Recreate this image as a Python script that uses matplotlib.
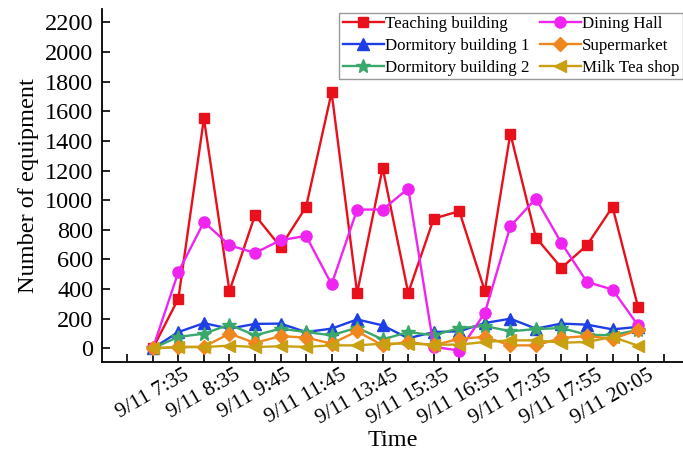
import matplotlib
matplotlib.use('Agg')
import matplotlib.pyplot as plt
import numpy as np

plt.rcParams['font.family'] = ['Liberation Serif', 'DejaVu Serif']

# time slots (only every second one is labelled on the axis)
n_points = 20
tick_labels = ['9/11 7:35', '9/11 8:35', '9/11 9:45', '9/11 11:45', '9/11 13:45',
               '9/11 15:35', '9/11 16:55', '9/11 17:35', '9/11 17:55', '9/11 20:05']

teaching = [0, 336, 1552, 387, 899, 685, 955, 1728, 374, 1218,
            374, 876, 926, 387, 1450, 748, 543, 696, 955, 279]
dining = [0, 516, 853, 696, 644, 730, 759, 432, 937, 937,
          1079, 10, -15, 239, 824, 1011, 711, 448, 397, 155]
dorm1 = [0, 110, 170, 133, 165, 167, 110, 133, 195, 155,
         68, 110, 115, 171, 200, 133, 167, 160, 128, 145]
dorm2 = [0, 77, 99, 160, 88, 133, 110, 88, 140, 60,
         110, 88, 137, 151, 115, 130, 137, 92, 88, 125]
supermarket = [0, 10, 10, 100, 36, 83, 72, 32, 115, 20,
               43, 20, 65, 77, 20, 20, 70, 83, 65, 122]
milktea = [0, 8, 9, 18, 9, 14, 10, 20, 20, 32,
           32, 25, 25, 43, 54, 54, 38, 43, 77, 18]

x = np.arange(n_points)

fig = plt.figure(figsize=(6.83, 4.57), dpi=100)
ax = fig.add_axes([0.149, 0.2086, 0.851, 0.7714])

lw = 1.7
ax.plot(x, teaching, color='#e8101a', marker='s', ms=7.5, lw=lw, label='Teaching building')
ax.plot(x, dorm1, color='#1f3fe6', marker='^', ms=8.5, lw=lw, label='Dormitory building 1')
ax.plot(x, dorm2, color='#3aa86a', marker='*', ms=10, lw=lw, label='Dormitory building 2')
ax.plot(x, dining, color='#f024f0', marker='o', ms=8, lw=lw, label='Dining Hall')
ax.plot(x, supermarket, color='#f0871e', marker='D', ms=7, lw=lw, label='Supermarket')
ax.plot(x, milktea, color='#c9a012', marker='<', ms=8.5, lw=lw, label='Milk Tea shop')

ax.set_xlim(-2, 20.76)
ax.set_ylim(-90, 2290)
ticks = np.arange(-1, 21)
labels = []
for t in ticks:
    if t >= 0 and t % 2 == 0 and t // 2 < len(tick_labels):
        labels.append(tick_labels[t // 2])
    else:
        labels.append('')
ax.set_xticks(ticks)
ax.set_xticklabels(labels)
ax.set_yticks(np.arange(0, 2201, 200))

ax.tick_params(axis='both', direction='in', length=6, width=1.2)
ax.tick_params(axis='y', labelsize=17.5, pad=6)
ax.tick_params(axis='x', labelsize=15.5, pad=3)
for lab in ax.get_xticklabels():
    lab.set_rotation(30)
    lab.set_ha('center')

for side in ['top', 'right']:
    ax.spines[side].set_visible(False)
for side in ['left', 'bottom']:
    ax.spines[side].set_linewidth(1.3)

ax.set_xlabel('Time', fontsize=17.5, labelpad=1)
ax.set_ylabel('Number of equipment', fontsize=17.5, labelpad=4)

leg = ax.legend(ncol=2, loc='upper right', bbox_to_anchor=(1.0, 0.99),
                fontsize=12.2, frameon=True, fancybox=False, edgecolor='#808080',
                handlelength=2.4, handletextpad=0.1, columnspacing=0.6,
                labelspacing=0.35, borderpad=0.2, borderaxespad=0.0)
leg.get_frame().set_linewidth(1.0)

fig.savefig('out.png', dpi=100)
